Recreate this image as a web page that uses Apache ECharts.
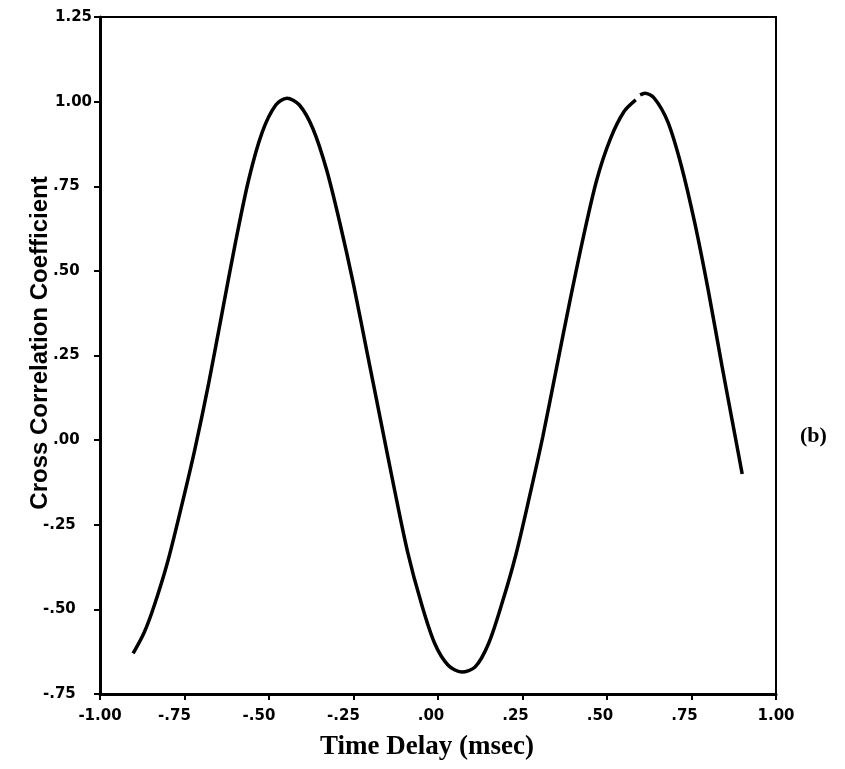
<!DOCTYPE html>
<html>
<head>
<meta charset="utf-8">
<script src="https://cdn.jsdelivr.net/npm/echarts@6/dist/echarts.min.js"></script>
<style>
html,body{margin:0;padding:0;background:#fff;}
#chart{width:845px;height:769px;}
</style>
</head>
<body>
<div id="chart"></div>
<script>
// Data
var timeDelay = [-0.902,-0.87,-0.84,-0.80,-0.76,-0.72,-0.68,-0.64,-0.60,-0.56,-0.52,-0.48,-0.447,-0.41,-0.37,-0.33,-0.29,-0.25,-0.21,-0.17,-0.13,-0.09,-0.05,-0.01,0.03,0.07,0.11,0.15,0.19,0.23,0.27,0.31,0.35,0.39,0.43,0.47,0.51,0.55,0.585,0.591,0.598,0.612,0.64,0.68,0.72,0.76,0.80,0.84,0.87,0.90];
var coefficient = [-0.63,-0.57,-0.49,-0.36,-0.20,-0.03,0.16,0.37,0.58,0.77,0.91,0.99,1.01,0.99,0.92,0.80,0.64,0.46,0.26,0.06,-0.14,-0.33,-0.48,-0.60,-0.665,-0.685,-0.67,-0.60,-0.48,-0.34,-0.17,0.01,0.21,0.41,0.60,0.77,0.89,0.97,1.005,'-',1.02,1.025,1.01,0.94,0.81,0.64,0.44,0.22,0.06,-0.10];
var xTickValues = [-1.00,-0.75,-0.50,-0.25,0.00,0.25,0.50,0.75,1.00];
var xTickLabels = ['-1.00','-.75','-.50','-.25','.00','.25','.50','.75','1.00'];
var yTickValues = [-0.75,-0.50,-0.25,0.00,0.25,0.50,0.75,1.00,1.25];
var yTickLabels = ['-.75','-.50','-.25','.00','.25','.50','.75','1.00','1.25'];
var xTitle = 'Time Delay (msec)';
var yTitle = 'Cross Correlation Coefficient';
var panelTag = '(b)';

function kindOf(s){
  if (s.charAt(0)==='-' && s.charAt(1)==='.') return 'neg';
  if (s.charAt(0)==='.') return 'frac';
  return 'one';
}
function labelFor(values, labels){
  return function(v){
    for (var i=0;i<values.length;i++){
      if (Math.abs(values[i]-v)<1e-6) return '{' + kindOf(labels[i]) + '|' + labels[i] + '}';
    }
    return '';
  };
}

var points = timeDelay.map(function(x,i){ return [x, coefficient[i]]; });

var base = {fontFamily:'DejaVu Sans', fontWeight:'bold', fontSize:15, color:'#000'};
function st(pad){ return Object.assign({padding:pad}, base); }

var chart = echarts.init(document.getElementById('chart'), null, {renderer:'canvas'});
chart.setOption({
  animation:false,
  backgroundColor:'#fff',
  grid:{left:100, right:69, top:17, bottom:75, show:true, borderColor:'#000', borderWidth:2},
  xAxis:{
    type:'value', min:-1, max:1, interval:0.25,
    name:xTitle, nameLocation:'middle', nameGap:40,
    nameTextStyle:{fontFamily:'Liberation Serif', fontWeight:'bold', fontSize:27, color:'#000', padding:[0,22,0,0]},
    axisLine:{show:true, onZero:false, lineStyle:{color:'#000', width:3}},
    axisTick:{show:true, inside:false, length:6, lineStyle:{color:'#000', width:2}},
    axisLabel:Object.assign({margin:15, formatter:labelFor(xTickValues,xTickLabels),
      rich:{neg:st([0,20,0,0]), frac:st([0,14,0,0]), one:st([0,0,0,0])}}, base),
    splitLine:{show:false}
  },
  yAxis:{
    type:'value', min:-0.75, max:1.25, interval:0.25,
    axisLine:{show:true, onZero:false, lineStyle:{color:'#000', width:3}},
    axisTick:{show:true, inside:false, length:6, lineStyle:{color:'#000', width:2}},
    axisLabel:Object.assign({margin:57, align:'left', formatter:labelFor(yTickValues,yTickLabels),
      rich:{neg:st([0,0,0,0]), frac:st([0,0,0,10]), one:st([0,0,0,12])}}, base),
    splitLine:{show:false}
  },
  graphic:[{
    type:'text', x:40, y:343, rotation:Math.PI/2,
    style:{text:yTitle, fontFamily:'Liberation Sans', fontWeight:'bold', fontSize:24, fill:'#000', align:'center', verticalAlign:'middle'}
  },{
    type:'text', left:800, top:425,
    style:{text:panelTag, fontFamily:'Liberation Serif', fontWeight:'bold', fontSize:22, fill:'#000'}
  }],
  series:[{
    type:'line', data:points, smooth:0.3, showSymbol:false, connectNulls:false,
    lineStyle:{color:'#000', width:3.5}
  }]
});
</script>
</body>
</html>
